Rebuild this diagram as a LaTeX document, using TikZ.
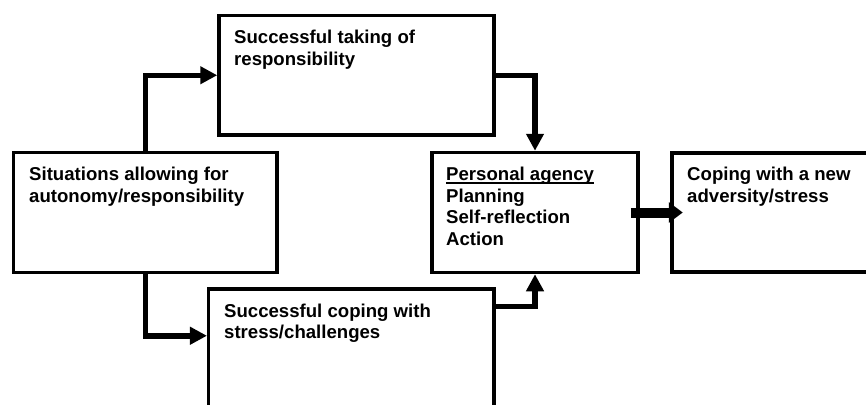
\documentclass[tikz,border=0pt]{standalone}
\usepackage{fontspec}
\setmainfont{Liberation Sans}
\usetikzlibrary{arrows.meta}
\newcommand{\myul}[1]{\setbox0\hbox{#1}\rlap{\rule[-3.2pt]{\wd0}{1.6pt}}\box0}
\begin{document}
\begin{tikzpicture}[x=1pt,y=-1pt,
  box/.style={draw=black,line width=3.5pt,inner sep=0pt,fill=none},
  txt/.style={anchor=north west,inner sep=0pt,align=left,
    font=\fontsize{18.6}{21.5}\selectfont\bfseries},
  conn/.style={draw=black,line width=5.5pt,line join=miter,
    -{Triangle[length=17pt,width=17pt]}},
  bigarrow/.style={draw=black,line width=10pt,
    -{Triangle[length=14pt,width=20pt]}}]
\useasboundingbox (0,0) rectangle (866,404);
\clip (0,0) rectangle (866,404);
\fill[white] (0,0) rectangle (866,404);
% boxes
\node[box,minimum width=275pt,minimum height=119.5pt] (top) at (356.5,75.25) {};
\node[box,minimum width=263.3pt,minimum height=120pt] (sit) at (145.3,212.5) {};
\node[box,minimum width=206pt,minimum height=120pt] (pa) at (535,212.5) {};
\node[box,minimum width=240pt,minimum height=119pt] (cope) at (792,212.5) {};
\node[box,minimum width=285.3pt,minimum height=150pt] (bot) at (351.35,364) {};
% texts
\node[txt] (ttop) at (234,30.1) {Successful taking of\\responsibility};
\node[txt] (tsit) at (29,167.1) {Situations allowing for\\autonomy/responsibility};
\node[txt] (tpa) at (446,167.1) {\myul{Personal agency}\\Planning\\Self-reflection\\Action};
\node[txt] (tcope) at (687,167.1) {Coping with a new\\adversity/stress};
\node[txt] (tbot) at (224,303.6) {Successful coping with\\stress/challenges};
% connectors
\coordinate (botin) at ([yshift=-48.5pt]bot.north west);
\coordinate (botout) at ([yshift=-19pt]bot.north east);
\draw[conn] (sit.north) |- (top.west);
\draw[conn] (top.east) -| (pa.north);
\draw[conn] (sit.south) |- (botin);
\draw[conn] (botout) -| (pa.south);
\draw[bigarrow] ([xshift=-9pt]pa.east) -- ([xshift=12.5pt]cope.west);
\end{tikzpicture}
\end{document}
